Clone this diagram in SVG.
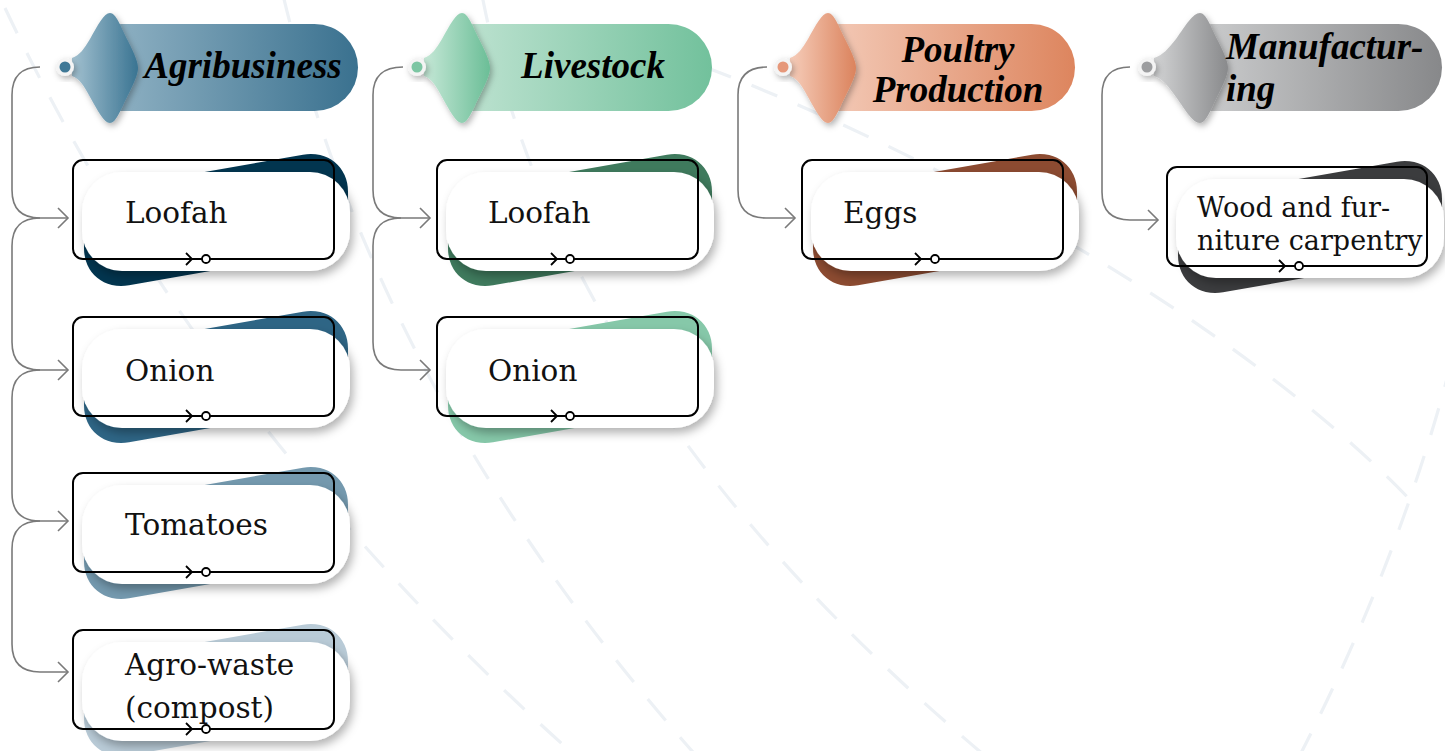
<svg xmlns="http://www.w3.org/2000/svg" width="1445" height="751" viewBox="0 0 1445 751">
<defs>
<style>
.bg{fill:none;stroke:#edf1f5;stroke-width:3.2;stroke-dasharray:28 22}
.conn{fill:none;stroke:#7a7a7a;stroke-width:1.6}
.outline{fill:none;stroke:#000;stroke-width:2}
.white{fill:#fff;filter:url(#shBox)}
.ht{font-family:"Liberation Serif",serif;font-style:italic;font-weight:bold;font-size:37px;fill:#000}
.bt{font-family:"DejaVu Serif",serif;font-size:29.5px;fill:#111}
.st{font-family:"DejaVu Serif",serif;font-size:27px;fill:#111}
.chev{fill:none;stroke:#000;stroke-width:1.8}
.dot{fill:#fff;stroke:#000;stroke-width:1.8}
.ring{fill:#f4f4f4;filter:url(#shHead)}
</style>
<filter id="shBox" x="-20%" y="-30%" width="140%" height="170%">
<feDropShadow dx="3" dy="5" stdDeviation="5" flood-color="#000" flood-opacity="0.3"/>
</filter>
<filter id="shHead" x="-40%" y="-30%" width="180%" height="160%">
<feDropShadow dx="2" dy="3" stdDeviation="3" flood-color="#000" flood-opacity="0.3"/>
</filter>
<marker id="arr" markerUnits="userSpaceOnUse" markerWidth="14" markerHeight="24" viewBox="-12 -11 14 22" refX="0" refY="0" orient="auto">
<path d="M -10 -10 L 0 0 L -10 10" fill="none" stroke="#7a7a7a" stroke-width="1.6"/>
</marker>
<linearGradient id="pA" x1="0" y1="0" x2="1" y2="0"><stop offset="0" stop-color="#8fb1c3"/><stop offset="1" stop-color="#3a718f"/></linearGradient>
<linearGradient id="dA" x1="0" y1="0" x2="1" y2="0"><stop offset="0" stop-color="#a3c1d0"/><stop offset="1" stop-color="#3a7492"/></linearGradient>
<linearGradient id="pL" x1="0" y1="0" x2="1" y2="0"><stop offset="0" stop-color="#bde2d0"/><stop offset="1" stop-color="#72c19c"/></linearGradient>
<linearGradient id="dL" x1="0" y1="0" x2="1" y2="0"><stop offset="0" stop-color="#c6e8d7"/><stop offset="1" stop-color="#6bbe97"/></linearGradient>
<linearGradient id="pP" x1="0" y1="0" x2="1" y2="0"><stop offset="0" stop-color="#f3c9b6"/><stop offset="1" stop-color="#dd855e"/></linearGradient>
<linearGradient id="dP" x1="0" y1="0" x2="1" y2="0"><stop offset="0" stop-color="#f6cdba"/><stop offset="1" stop-color="#db835d"/></linearGradient>
<linearGradient id="pM" x1="0" y1="0" x2="1" y2="0"><stop offset="0" stop-color="#cbcccd"/><stop offset="1" stop-color="#87888a"/></linearGradient>
<linearGradient id="dM" x1="0" y1="0" x2="1" y2="0"><stop offset="0" stop-color="#d2d3d4"/><stop offset="1" stop-color="#898a8c"/></linearGradient>
</defs>

<g id="background">
<path class="bg" d="M 5 8 Q 200 420 570 751"/>
<path class="bg" d="M 283 -5 Q 380 400 700 760"/>
<path class="bg" d="M 482 -5 Q 560 400 990 760"/>
<path class="bg" d="M 705 67 C 950 160 1250 330 1415 505"/>
<path class="bg" d="M 1452 360 Q 1400 560 1300 755"/>
</g>

<g id="connectors">
<path class="conn" marker-end="url(#arr)" d="M 40 67 Q 12 67 12 95 V 190 Q 12 218 40 218 H 68"/>
<path class="conn" marker-end="url(#arr)" d="M 40 218 Q 12 218 12 246 V 342 Q 12 370 40 370 H 68"/>
<path class="conn" marker-end="url(#arr)" d="M 40 370 Q 12 370 12 398 V 493 Q 12 521 40 521 H 68"/>
<path class="conn" marker-end="url(#arr)" d="M 40 521 Q 12 521 12 549 V 644 Q 12 672 40 672 H 68"/>
<path class="conn" marker-end="url(#arr)" d="M 403 67 Q 373 67 373 95 V 190 Q 373 218 401 218 H 430"/>
<path class="conn" marker-end="url(#arr)" d="M 401 218 Q 373 218 373 246 V 342 Q 373 370 401 370 H 430"/>
<path class="conn" marker-end="url(#arr)" d="M 767 67 Q 738 67 738 95 V 190 Q 738 218 766 218 H 795"/>
<path class="conn" marker-end="url(#arr)" d="M 1130 67 Q 1102 67 1102 95 V 192 Q 1102 220 1130 220 H 1158"/>
</g>

<g id="head-agribusiness">
<path d="M 112 24 H 314.5 A 43.5 43.5 0 0 1 314.5 111 H 112 Z" fill="url(#pA)"/>
<path transform="translate(110,13)" filter="url(#shHead)" fill="url(#dA)" d="M 0 0 C 6 0 10 12 18 28 C 26 44 28 50 28 55 C 28 60 26 66 18 82 C 10 98 6 110 0 110 C -6 110 -12 98 -20 84 C -26 73 -30 66 -38 63 L -38 45 C -30 42 -26 36 -20 26 C -12 12 -6 0 0 0 Z"/>
<circle class="ring" cx="65" cy="67" r="9"/>
<circle cx="65" cy="67" r="5.5" fill="#3f7896"/>
<text class="ht" x="243" y="78" text-anchor="middle">Agribusiness</text>
</g>

<g id="head-livestock">
<path d="M 464 24 H 668.5 A 43.5 43.5 0 0 1 668.5 111 H 464 Z" fill="url(#pL)"/>
<path transform="translate(462,13)" filter="url(#shHead)" fill="url(#dL)" d="M 0 0 C 6 0 10 12 18 28 C 26 44 28 50 28 55 C 28 60 26 66 18 82 C 10 98 6 110 0 110 C -6 110 -12 98 -20 84 C -26 73 -30 66 -38 63 L -38 45 C -30 42 -26 36 -20 26 C -12 12 -6 0 0 0 Z"/>
<circle class="ring" cx="417" cy="67" r="9"/>
<circle cx="417" cy="67" r="5.5" fill="#7cc6a3"/>
<text class="ht" x="593" y="78" text-anchor="middle">Livestock</text>
</g>

<g id="head-poultry">
<path d="M 830 24 H 1031.5 A 43.5 43.5 0 0 1 1031.5 111 H 830 Z" fill="url(#pP)"/>
<path transform="translate(828,13)" filter="url(#shHead)" fill="url(#dP)" d="M 0 0 C 6 0 10 12 18 28 C 26 44 28 50 28 55 C 28 60 26 66 18 82 C 10 98 6 110 0 110 C -6 110 -12 98 -20 84 C -26 73 -30 66 -38 63 L -38 45 C -30 42 -26 36 -20 26 C -12 12 -6 0 0 0 Z"/>
<circle class="ring" cx="783" cy="67" r="9"/>
<circle cx="783" cy="67" r="5.5" fill="#e6987a"/>
<text class="ht" x="958" y="62" text-anchor="middle">Poultry</text>
<text class="ht" x="958" y="102" text-anchor="middle">Production</text>
</g>

<g id="head-manufacturing">
<path d="M 1202 24 H 1398.5 A 43.5 43.5 0 0 1 1398.5 111 H 1202 Z" fill="url(#pM)"/>
<path transform="translate(1200,13)" filter="url(#shHead)" fill="url(#dM)" d="M 0 0 C 6 0 10 12 18 28 C 26 44 28 50 28 55 C 28 60 26 66 18 82 C 10 98 6 110 0 110 C -7 110 -14 98 -24 84 C -32 73 -37 66 -46 63 L -46 45 C -37 42 -32 36 -24 26 C -14 12 -7 0 0 0 Z"/>
<circle class="ring" cx="1147" cy="67" r="9"/>
<circle cx="1147" cy="67" r="5.5" fill="#9c9d9f"/>
<text class="ht" x="1226" y="59">Manufactur-</text>
<text class="ht" x="1226" y="101">ing</text>
</g>

<g id="agri-loofah">
<rect x="84" y="170" width="264" height="100" rx="45" fill="#02354f" transform="translate(216 220) skewY(-10) translate(-216 -220)"/>
<rect class="white" x="82" y="172" width="268" height="99" rx="40"/>
<rect class="outline" x="73" y="160" width="261" height="99" rx="10"/>
<text class="bt" x="125" y="223">Loofah</text>
<path class="chev" d="M 186 253 L 192 259 L 186 265"/>
<circle class="dot" cx="206" cy="259" r="4"/>
</g>

<g id="agri-onion">
<rect x="84" y="327" width="264" height="100" rx="45" fill="#2e6585" transform="translate(216 377) skewY(-10) translate(-216 -377)"/>
<rect class="white" x="82" y="329" width="268" height="99" rx="40"/>
<rect class="outline" x="73" y="317" width="261" height="99" rx="10"/>
<text class="bt" x="125" y="381">Onion</text>
<path class="chev" d="M 186 410 L 192 416 L 186 422"/>
<circle class="dot" cx="206" cy="416" r="4"/>
</g>

<g id="agri-tomatoes">
<rect x="84" y="483" width="264" height="100" rx="45" fill="#7499ae" transform="translate(216 533) skewY(-10) translate(-216 -533)"/>
<rect class="white" x="82" y="485" width="268" height="99" rx="40"/>
<rect class="outline" x="73" y="473" width="261" height="99" rx="10"/>
<text class="bt" x="125" y="535">Tomatoes</text>
<path class="chev" d="M 186 566 L 192 572 L 186 578"/>
<circle class="dot" cx="206" cy="572" r="4"/>
</g>

<g id="agri-agrowaste">
<rect x="84" y="640" width="264" height="100" rx="45" fill="#b9cbd7" transform="translate(216 690) skewY(-10) translate(-216 -690)"/>
<rect class="white" x="82" y="642" width="268" height="99" rx="40"/>
<rect class="outline" x="73" y="630" width="261" height="99" rx="10"/>
<text class="bt" x="125" y="675">Agro-waste</text>
<text class="bt" x="125" y="718">(compost)</text>
<path class="chev" d="M 186 723 L 192 729 L 186 735"/>
<circle class="dot" cx="206" cy="729" r="4"/>
</g>

<g id="live-loofah">
<rect x="448" y="170" width="264" height="100" rx="45" fill="#3f7a5d" transform="translate(580 220) skewY(-10) translate(-580 -220)"/>
<rect class="white" x="446" y="172" width="268" height="99" rx="40"/>
<rect class="outline" x="437" y="160" width="261" height="99" rx="10"/>
<text class="bt" x="488" y="223">Loofah</text>
<path class="chev" d="M 551 253 L 557 259 L 551 265"/>
<circle class="dot" cx="570" cy="259" r="4"/>
</g>

<g id="live-onion">
<rect x="448" y="327" width="264" height="100" rx="45" fill="#86c8a9" transform="translate(580 377) skewY(-10) translate(-580 -377)"/>
<rect class="white" x="446" y="329" width="268" height="99" rx="40"/>
<rect class="outline" x="437" y="317" width="261" height="99" rx="10"/>
<text class="bt" x="488" y="381">Onion</text>
<path class="chev" d="M 551 410 L 557 416 L 551 422"/>
<circle class="dot" cx="570" cy="416" r="4"/>
</g>

<g id="poultry-eggs">
<rect x="813" y="170" width="264" height="100" rx="45" fill="#8c4b31" transform="translate(945 220) skewY(-10) translate(-945 -220)"/>
<rect class="white" x="811" y="172" width="268" height="99" rx="40"/>
<rect class="outline" x="802" y="160" width="261" height="99" rx="10"/>
<text class="bt" x="843" y="223">Eggs</text>
<path class="chev" d="M 915 253 L 921 259 L 915 265"/>
<circle class="dot" cx="935" cy="259" r="4"/>
</g>

<g id="manuf-wood">
<rect x="1178" y="177" width="264" height="100" rx="45" fill="#3b3c3e" transform="translate(1310 227) skewY(-10) translate(-1310 -227)"/>
<rect class="white" x="1176" y="179" width="268" height="99" rx="40"/>
<rect class="outline" x="1167" y="167" width="260" height="99" rx="10"/>
<text class="st" x="1197" y="217">Wood and fur-</text>
<text class="st" x="1197" y="250">niture carpentry</text>
<path class="chev" d="M 1279 260 L 1285 266 L 1279 272"/>
<circle class="dot" cx="1299" cy="266" r="4"/>
</g>
</svg>
